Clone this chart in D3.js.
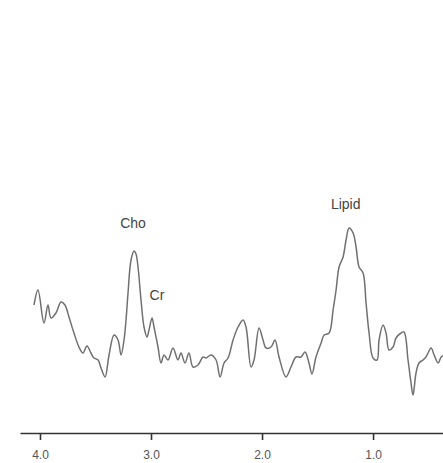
<!DOCTYPE html>
<html>
<head>
<meta charset="utf-8">
<script src="https://cdn.jsdelivr.net/npm/d3@7"></script>
<style>
  html, body { margin: 0; padding: 0; background: #fff; }
  svg { display: block; }
</style>
</head>
<body>
<svg id="chart" width="443" height="463"></svg>
<script>
// Chemical shift (ppm) and signal intensity (a.u.) of the spectrum
const ppm = [4.054, 4.018, 3.964, 3.928, 3.901, 3.856, 3.811, 3.775, 3.739, 3.694,
  3.649, 3.613, 3.577, 3.541, 3.514, 3.477, 3.450, 3.414, 3.378, 3.333,
  3.297, 3.270, 3.243, 3.225, 3.207, 3.180, 3.153, 3.135, 3.117, 3.090,
  3.063, 3.036, 3.018, 2.991, 2.973, 2.937, 2.910, 2.883, 2.847, 2.802,
  2.757, 2.730, 2.694, 2.658, 2.622, 2.577, 2.532, 2.505, 2.459, 2.414,
  2.378, 2.342, 2.306, 2.261, 2.216, 2.171, 2.144, 2.099, 2.072, 2.027,
  1.991, 1.964, 1.919, 1.883, 1.847, 1.784, 1.739, 1.694, 1.649, 1.613,
  1.577, 1.550, 1.514, 1.468, 1.441, 1.396, 1.360, 1.333, 1.306, 1.270,
  1.243, 1.216, 1.180, 1.153, 1.126, 1.090, 1.063, 1.036, 1.000, 0.964,
  0.946, 0.910, 0.883, 0.856, 0.820, 0.793, 0.748, 0.721, 0.685, 0.658,
  0.640, 0.613, 0.586, 0.550, 0.523, 0.477, 0.450, 0.414, 0.387, 0.360];
const intensity = [52.5, 60, 43.5, 52.5, 46, 48.5, 54, 52.5, 46.5, 38.5,
  31.5, 28.5, 32, 28.5, 26, 25, 21, 16.5, 27.5, 37.5,
  35, 27.5, 35, 45, 58.5, 75, 79.5, 78, 71.5, 55,
  41.5, 36.5, 40, 46, 41.5, 31.5, 23.5, 27.5, 25, 31,
  25, 28.5, 23.5, 28.5, 21.5, 22.5, 26.5, 26, 27.5, 25,
  16.5, 23.5, 26, 35, 41.5, 45, 41.5, 21.5, 25, 41,
  35, 31, 31.5, 35, 26.5, 16.5, 21.5, 26.5, 26.5, 29,
  23.5, 18, 26.5, 33.5, 37.5, 38.5, 50, 60, 71.5, 76.5,
  85, 91, 88.5, 81.5, 71.5, 68.5, 53.5, 38.5, 26, 25,
  35, 42.5, 38.5, 30, 31.5, 36, 38.5, 39, 25, 13.5,
  7.5, 18.5, 23.5, 25, 26.5, 31, 27.5, 23.5, 26.5, 27.5];

// Axis ticks
const tickValues = [4.0, 3.0, 2.0, 1.0];

// Peak annotations
const peakNames = ["Cho", "Cr", "Lipid"];
const peakPpm = [3.162, 2.946, 1.246];
const peakLabelLevel = [93.5, 57.5, 103];

const width = 443, height = 463;
const margin = { top: 10, right: 0, bottom: 30, left: 20 };
const labelFont = "'Liberation Sans', Arial, Helvetica, sans-serif";

const svg = d3.select("#chart");

const x = d3.scaleLinear()
  .domain([4.18, 0.37])
  .range([margin.left, width - margin.right]);

const y = d3.scaleLinear()
  .domain([0, 100])
  .range([410, 210]);

const points = ppm.map((p, i) => [p, intensity[i]]);

const line = d3.line()
  .x(d => x(d[0]))
  .y(d => y(d[1]))
  .curve(d3.curveCatmullRom.alpha(0.5));

svg.append("path")
  .datum(points)
  .attr("fill", "none")
  .attr("stroke", "#707070")
  .attr("stroke-width", 1.5)
  .attr("stroke-linejoin", "round")
  .attr("d", line);

// Bottom ppm axis
const axisY = height - 30;
const axis = svg.append("g")
  .attr("transform", `translate(0,${axisY})`)
  .call(d3.axisBottom(x)
    .tickValues(tickValues)
    .tickFormat(d3.format(".1f"))
    .tickSize(7)
    .tickSizeOuter(0));

axis.select(".domain")
  .attr("stroke", "#333")
  .attr("stroke-width", 1.6);
axis.selectAll(".tick line")
  .attr("stroke", "#333")
  .attr("stroke-width", 1.6);
axis.selectAll(".tick text")
  .attr("fill", "#555")
  .attr("dy", "1.3em")
  .style("font-family", labelFont)
  .style("font-size", "12px");

// Peak labels
svg.append("g")
  .selectAll("text")
  .data(peakNames)
  .join("text")
  .attr("x", (d, i) => x(peakPpm[i]))
  .attr("y", (d, i) => y(peakLabelLevel[i]))
  .attr("dy", "0.35em")
  .attr("text-anchor", "middle")
  .attr("fill", "#444")
  .style("font-family", labelFont)
  .style("font-size", "14px")
  .text(d => d);
</script>
</body>
</html>
